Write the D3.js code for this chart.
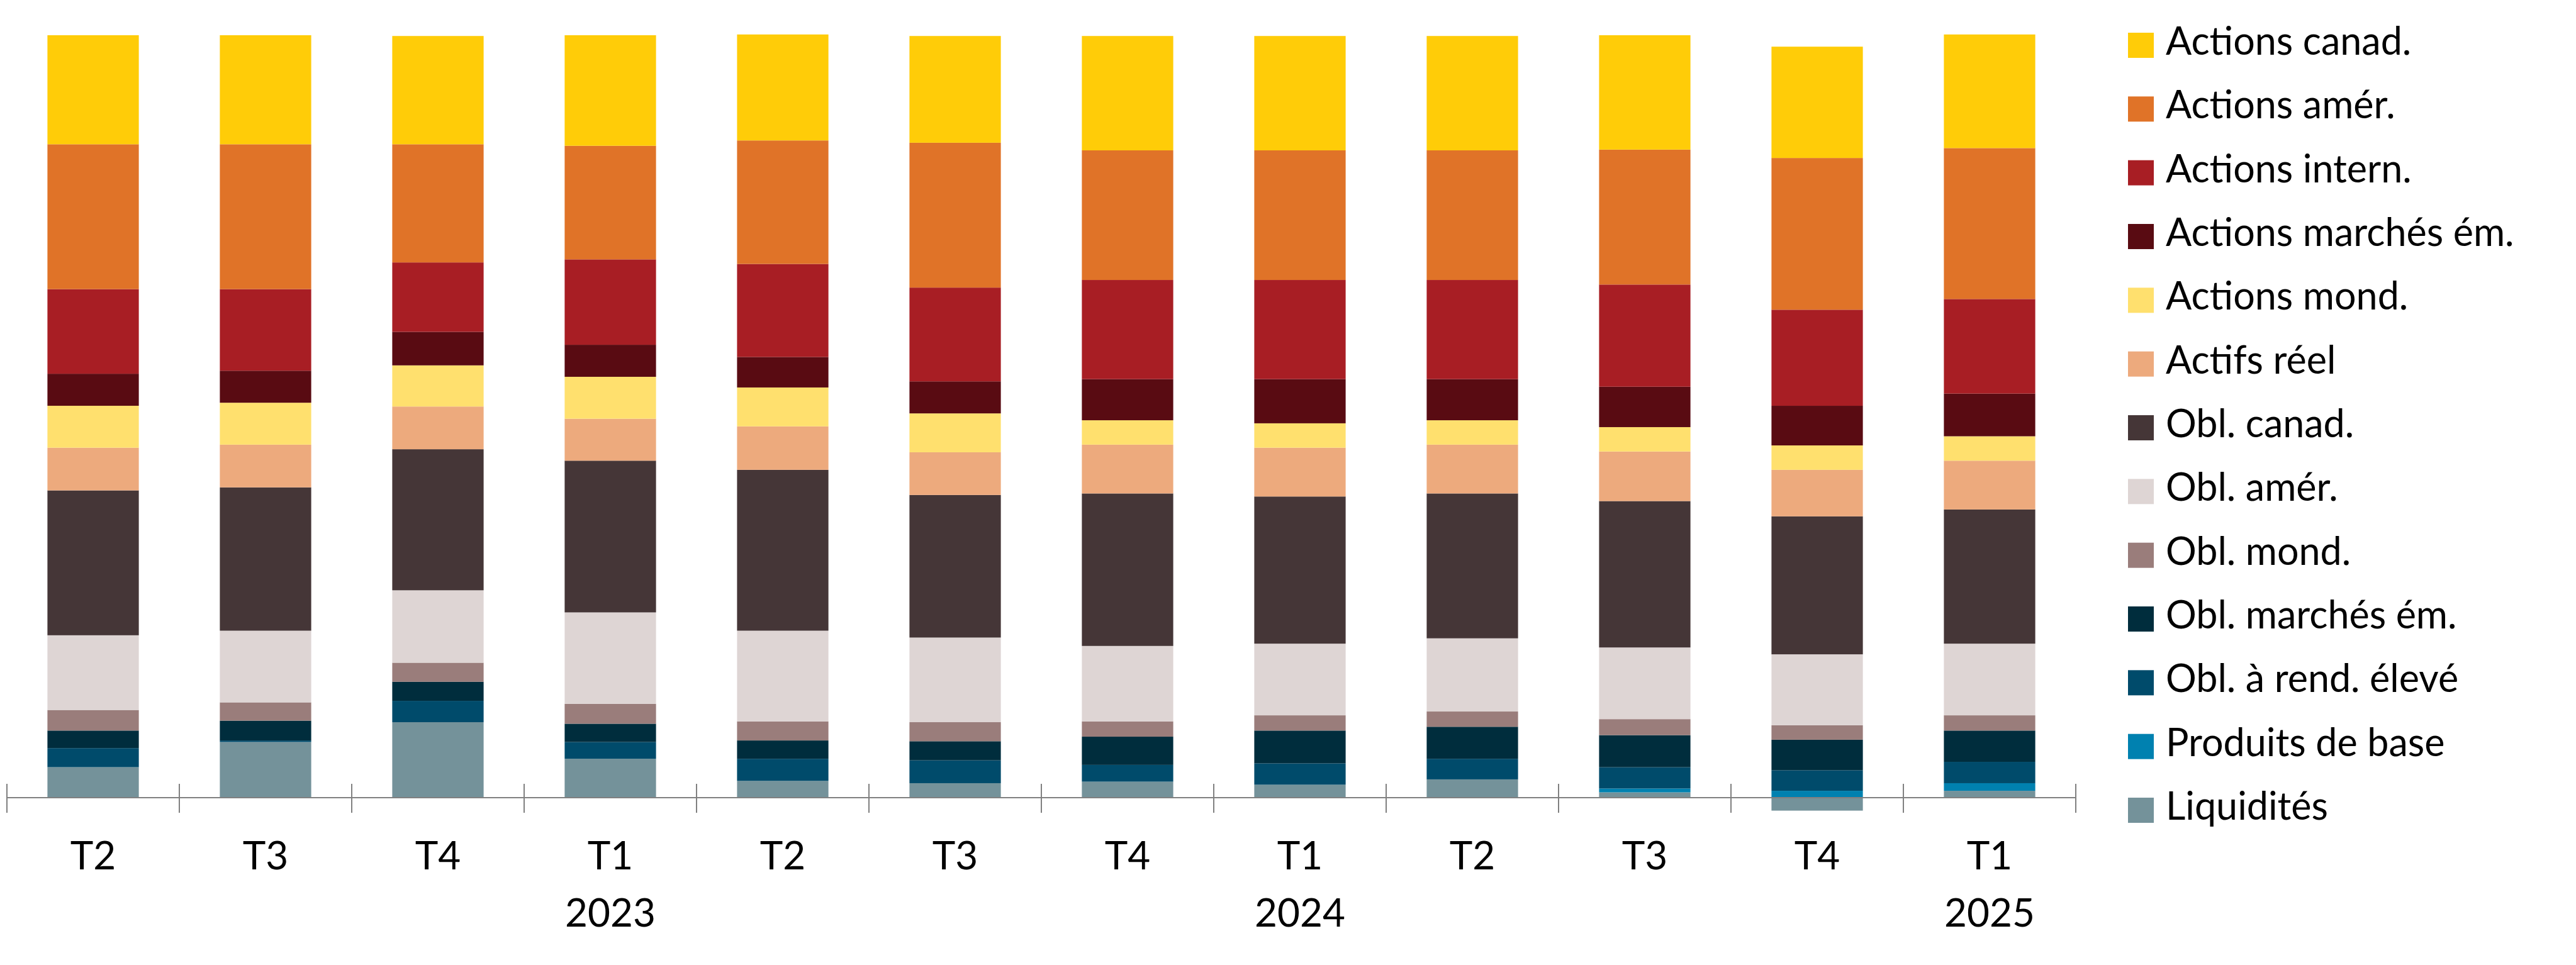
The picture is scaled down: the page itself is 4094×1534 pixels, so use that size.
<!DOCTYPE html>
<html lang="fr">
<head>
<meta charset="utf-8">
<script src="https://cdn.jsdelivr.net/npm/d3@7"></script>
<style>
    body { margin: 0; background: #fff; }
    text { font-family: Lato, "Open Sans", sans-serif; fill: #000; }
</style>
</head>
<body>
<div id="chart"></div>
<script>
// categories
let quarters = ["T2", "T3", "T4", "T1", "T2", "T3", "T4", "T1", "T2", "T3", "T4", "T1"];
let years = ["", "", "", "2023", "", "", "", "2024", "", "", "", "2025"];

// series values (% of portfolio), bottom of the stack first
let liquidites       = [4.0, 7.3, 9.9, 5.1, 2.2, 1.9, 2.1, 1.7, 2.4, 0.7, -1.7, 0.9];
let produitsBase     = [0, 0, 0, 0, 0, 0, 0, 0, 0, 0.5, 0.9, 1.0];
let oblRendEleve     = [2.5, 0.2, 2.8, 2.2, 2.9, 3.0, 2.2, 2.8, 2.7, 2.8, 2.7, 2.8];
let oblMarchesEm     = [2.3, 2.6, 2.5, 2.4, 2.4, 2.5, 3.7, 4.3, 4.2, 4.2, 4.0, 4.1];
let oblMond          = [2.7, 2.4, 2.5, 2.6, 2.5, 2.5, 2.0, 2.0, 2.0, 2.1, 1.9, 2.0];
let oblAmer          = [9.8, 9.4, 9.5, 12.0, 11.9, 11.1, 9.9, 9.4, 9.6, 9.4, 9.3, 9.4];
let oblCanad         = [19.0, 18.8, 18.5, 19.9, 21.1, 18.7, 20.0, 19.3, 19.0, 19.2, 18.1, 17.6];
let actifsReel       = [5.6, 5.6, 5.6, 5.5, 5.7, 5.6, 6.4, 6.4, 6.4, 6.5, 6.1, 6.4];
let actionsMond      = [5.5, 5.5, 5.4, 5.5, 5.1, 5.1, 3.2, 3.2, 3.2, 3.2, 3.2, 3.2];
let actionsMarchesEm = [4.2, 4.2, 4.4, 4.2, 4.0, 4.2, 5.4, 5.8, 5.4, 5.3, 5.2, 5.6];
let actionsIntern    = [11.1, 10.7, 9.1, 11.2, 12.2, 12.3, 13.0, 13.0, 13.0, 13.4, 12.6, 12.4];
let actionsAmer      = [19.0, 19.0, 15.5, 14.9, 16.2, 19.0, 17.0, 17.0, 17.0, 17.7, 19.9, 19.8];
let actionsCanad     = [14.3, 14.3, 14.2, 14.5, 13.9, 14.0, 15.0, 15.0, 15.0, 15.0, 14.6, 14.9];

let seriesNames = ["Liquidités", "Produits de base", "Obl. à rend. élevé", "Obl. marchés ém.",
    "Obl. mond.", "Obl. amér.", "Obl. canad.", "Actifs réel", "Actions mond.",
    "Actions marchés ém.", "Actions intern.", "Actions amér.", "Actions canad."];
let seriesValues = [liquidites, produitsBase, oblRendEleve, oblMarchesEm, oblMond, oblAmer,
    oblCanad, actifsReel, actionsMond, actionsMarchesEm, actionsIntern, actionsAmer, actionsCanad];
let seriesColors = ["#74929a", "#0081b0", "#004b6b", "#002d3d", "#9a7d7b", "#ded5d4",
    "#453637", "#edaa7d", "#ffe06e", "#590b12", "#a81e24", "#e07328", "#ffcc08"];

let totalWidth = 4094,
    totalHeight = 1534;

let table = quarters.map(function(q, i) {
    let row = {idx: i};
    seriesNames.forEach(function(name, s) { row[name] = seriesValues[s][i]; });
    return row;
});

let stacked = d3.stack()
    .keys(seriesNames)
    .offset(d3.stackOffsetDiverging)(table);

let xScale = d3.scaleBand()
    .domain(d3.range(quarters.length))
    .range([11, 3299])
    .paddingInner(0.47)
    .paddingOuter(0.235);

let yScale = d3.scaleLinear()
    .domain([0, 100])
    .range([1268, 56]);

let colorScale = d3.scaleOrdinal()
    .domain(seriesNames)
    .range(seriesColors);

let svg = d3.select("#chart").append("svg")
    .attr("width", totalWidth)
    .attr("height", totalHeight);

// bars
svg.append("g").selectAll("g")
    .data(stacked)
    .join("g")
    .attr("fill", function(d) { return colorScale(d.key); })
    .selectAll("rect")
    .data(function(d) { return d; })
    .join("rect")
    .attr("x", function(d) { return xScale(d.data.idx); })
    .attr("width", xScale.bandwidth())
    .attr("y", function(d) { return yScale(Math.max(d[0], d[1])); })
    .attr("height", function(d) { return Math.abs(yScale(d[0]) - yScale(d[1])); });

// x axis: line at zero, ticks between categories
let step = xScale.step();
let x0 = xScale.range()[0];
let axis = svg.append("g").attr("class", "x-axis");

axis.append("line")
    .attr("x1", x0)
    .attr("x2", x0 + step * quarters.length)
    .attr("y1", yScale(0))
    .attr("y2", yScale(0))
    .attr("stroke", "#808080")
    .attr("stroke-width", 2);

axis.selectAll(".tick")
    .data(d3.range(quarters.length + 1))
    .join("line")
    .attr("class", "tick")
    .attr("x1", function(i) { return x0 + step * i; })
    .attr("x2", function(i) { return x0 + step * i; })
    .attr("y1", yScale(0) - 22)
    .attr("y2", yScale(0) + 24)
    .attr("stroke", "#808080")
    .attr("stroke-width", 2);

axis.selectAll(".qlabel")
    .data(quarters)
    .join("text")
    .attr("class", "qlabel")
    .attr("x", function(d, i) { return xScale(i) + xScale.bandwidth() / 2; })
    .attr("y", 1382)
    .attr("text-anchor", "middle")
    .attr("font-size", 62)
    .text(function(d) { return d; });

axis.selectAll(".ylabel")
    .data(years)
    .join("text")
    .attr("class", "ylabel")
    .attr("x", function(d, i) { return xScale(i) + xScale.bandwidth() / 2; })
    .attr("y", 1473)
    .attr("text-anchor", "middle")
    .attr("font-size", 62)
    .text(function(d) { return d; });

// legend, top item = top of the stack
let legendNames = seriesNames.slice().reverse();
let legendY = d3.scalePoint()
    .domain(legendNames)
    .range([52, 1268]);

let legend = svg.append("g")
    .selectAll("g")
    .data(legendNames)
    .join("g")
    .attr("transform", function(d) { return "translate(3382," + legendY(d) + ")"; });

legend.append("rect")
    .attr("width", 41)
    .attr("height", 40)
    .attr("fill", function(d) { return colorScale(d); });

legend.append("text")
    .attr("x", 60)
    .attr("y", 35)
    .attr("font-size", 61)
    .text(function(d) { return d; });
</script>
</body>
</html>
